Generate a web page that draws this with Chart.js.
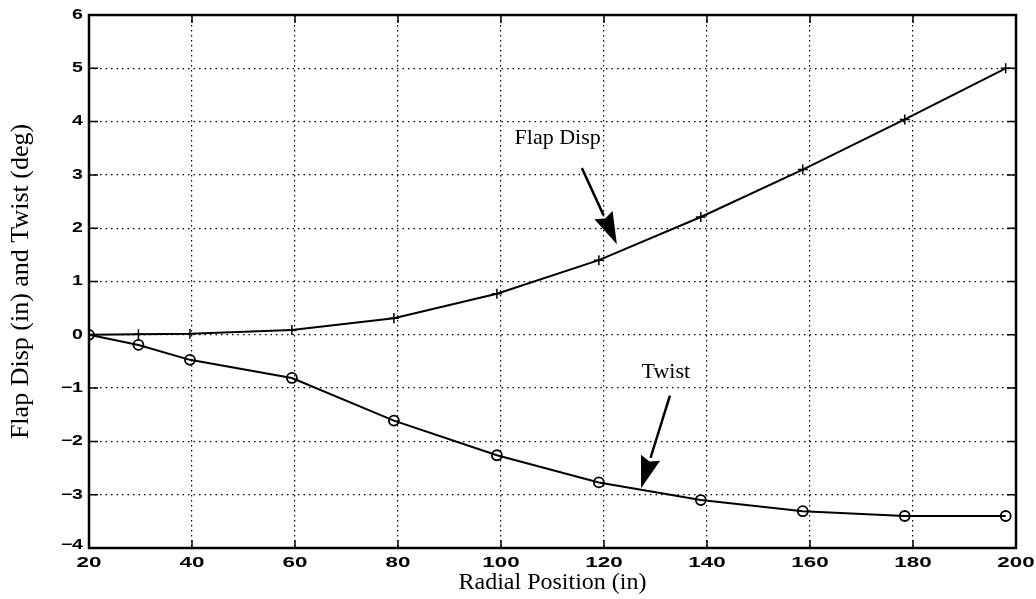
<!DOCTYPE html>
<html>
<head>
<meta charset="utf-8">
<script src="https://cdn.jsdelivr.net/npm/chart.js@4.4.0/dist/chart.umd.min.js"></script>
<style>
  html, body { margin: 0; padding: 0; background: #fff; }
  #wrap { width: 1036px; height: 599px; }
</style>
</head>
<body>
<div id="wrap"><canvas id="c" width="1036" height="599"></canvas></div>
<script>
// Radial stations (in) and the two response curves
const radialPos = [20, 29.6, 39.6, 59.4, 79.2, 99.2, 119, 138.8, 158.6, 178.4, 198];
const flapDisp  = [0, 0.01, 0.02, 0.09, 0.31, 0.77, 1.40, 2.21, 3.10, 4.04, 5.00];
const twist     = [0, -0.19, -0.47, -0.81, -1.61, -2.26, -2.77, -3.10, -3.31, -3.40, -3.40];

const xTicks = [20, 40, 60, 80, 100, 120, 140, 160, 180, 200];
const yTicks = [-4, -3, -2, -1, 0, 1, 2, 3, 4, 5, 6];

// text labels with arrows, in data units
const notes = [
  { text: "Flap Disp", tx: 111, ty: 3.69, from: [115.7, 3.13], to: [122.5, 1.70] },
  { text: "Twist",     tx: 132, ty: -0.71, from: [132.8, -1.14], to: [127.2, -2.88] }
];

const toPoints = ys => radialPos.map((x, i) => ({ x, y: ys[i] }));
const tickText = v => String(v).replace("-", "\u2212");

// -----------------------------
// Box, inward ticks, wide tick labels and arrows
// -----------------------------
const matlabFrame = {
  id: "matlabFrame",
  afterDatasetsDraw(chart) {
    const { ctx, chartArea: a, scales: { x, y } } = chart;
    ctx.save();
    ctx.strokeStyle = "#000";
    ctx.lineWidth = 2.5;
    ctx.strokeRect(a.left, a.top, a.right - a.left, a.bottom - a.top);

    ctx.lineWidth = 1.5;
    ctx.beginPath();
    x.ticks.forEach(t => {
      const px = x.getPixelForValue(t.value);
      ctx.moveTo(px, a.bottom); ctx.lineTo(px, a.bottom - 8);
      ctx.moveTo(px, a.top);    ctx.lineTo(px, a.top + 8);
    });
    y.ticks.forEach(t => {
      const py = y.getPixelForValue(t.value);
      ctx.moveTo(a.left, py);  ctx.lineTo(a.left + 9, py);
      ctx.moveTo(a.right, py); ctx.lineTo(a.right - 9, py);
    });
    ctx.stroke();

    // tick labels: the scanned Helvetica is stretched sideways
    ctx.fillStyle = "#000";
    ctx.font = "bold 14px 'Liberation Sans', Arial, sans-serif";
    ctx.textBaseline = "middle";
    ctx.textAlign = "center";
    x.ticks.forEach(t => {
      const px = x.getPixelForValue(t.value);
      ctx.save();
      ctx.translate(px, a.bottom + 15);
      ctx.scale(1.6, 1);
      ctx.fillText(tickText(t.value), 0, 0);
      ctx.restore();
    });
    ctx.textAlign = "right";
    y.ticks.forEach(t => {
      const py = y.getPixelForValue(t.value) - (t.value === -4 ? 3 : 0);
      ctx.save();
      ctx.translate(a.left - 6, py);
      ctx.scale(1.4, 1);
      ctx.fillText(tickText(t.value), 0, 0);
      ctx.restore();
    });

    ctx.font = "22px 'Liberation Serif', 'Times New Roman', serif";
    ctx.textAlign = "center";
    notes.forEach(n => {
      ctx.fillText(n.text, x.getPixelForValue(n.tx), y.getPixelForValue(n.ty));
      const x0 = x.getPixelForValue(n.from[0]), y0 = y.getPixelForValue(n.from[1]);
      const x1 = x.getPixelForValue(n.to[0]),   y1 = y.getPixelForValue(n.to[1]);
      const ang = Math.atan2(y1 - y0, x1 - x0);
      const hl = 32, hw = 10;
      const bx = x1 - hl * Math.cos(ang), by = y1 - hl * Math.sin(ang);
      ctx.lineWidth = 2.5;
      ctx.beginPath();
      ctx.moveTo(x0, y0); ctx.lineTo(bx, by);
      ctx.stroke();
      ctx.beginPath();
      ctx.moveTo(x1, y1);
      ctx.lineTo(bx + hw * Math.sin(ang), by - hw * Math.cos(ang));
      ctx.lineTo(bx + 0.12 * hl * Math.cos(ang), by + 0.12 * hl * Math.sin(ang));
      ctx.lineTo(bx - hw * Math.sin(ang), by + hw * Math.cos(ang));
      ctx.closePath();
      ctx.fill();
    });
    ctx.restore();
  }
};

new Chart(document.getElementById("c"), {
  type: "line",
  data: {
    datasets: [
      {
        label: "Flap Disp",
        data: toPoints(flapDisp),
        borderColor: "#000",
        borderWidth: 2,
        pointStyle: "cross",
        pointRadius: 5,
        pointBorderWidth: 1.5,
        pointBorderColor: "#000",
        tension: 0
      },
      {
        label: "Twist",
        data: toPoints(twist),
        borderColor: "#000",
        borderWidth: 2,
        pointStyle: "circle",
        pointRadius: 5,
        pointBorderWidth: 1.8,
        pointBorderColor: "#000",
        pointBackgroundColor: "rgba(0,0,0,0)",
        tension: 0
      }
    ]
  },
  options: {
    responsive: false,
    animation: false,
    layout: { padding: { top: 15, right: 20, left: 0, bottom: 0 } },
    plugins: { legend: { display: false }, tooltip: { enabled: false } },
    scales: {
      x: {
        type: "linear",
        min: 20, max: 200,
        afterBuildTicks: s => { s.ticks = xTicks.map(v => ({ value: v })); },
        afterFit: s => { s.height = 51; },
        grid: { color: "#000", lineWidth: 1.2, drawTicks: false },
        border: { display: false, dash: [1.5, 3.5] },
        ticks: { display: false },
        title: {
          display: true,
          text: "Radial Position (in)",
          color: "#000",
          padding: { top: 0, bottom: 2 },
          font: { family: "'Liberation Serif', 'Times New Roman', serif", size: 24 }
        }
      },
      y: {
        type: "linear",
        min: -4, max: 6,
        afterBuildTicks: s => { s.ticks = yTicks.map(v => ({ value: v })); },
        afterFit: s => { s.width = 89; },
        grid: { color: "#000", lineWidth: 1.2, drawTicks: false },
        border: { display: false, dash: [1.5, 4] },
        ticks: { display: false },
        title: {
          display: true,
          text: "Flap Disp (in) and Twist (deg)",
          color: "#000",
          padding: { top: 6, bottom: 0 },
          font: { family: "'Liberation Serif', 'Times New Roman', serif", size: 26 }
        }
      }
    }
  },
  plugins: [matlabFrame]
});
</script>
</body>
</html>
